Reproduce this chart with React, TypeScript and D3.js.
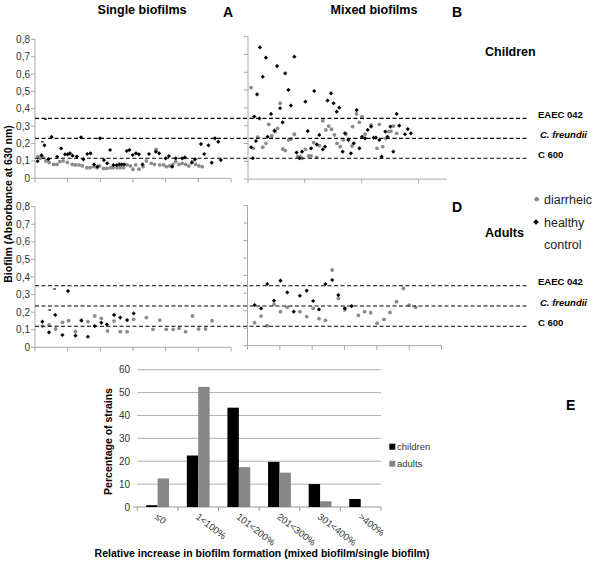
import React from "react";
import * as d3 from "d3";

// ---------- data ----------
const yTickValues = [0, 0.1, 0.2, 0.3, 0.4, 0.5, 0.6, 0.7, 0.8];
const refStrains = ["EAEC 042", "C. freundii", "C 600"];
const refTopValues = [0.345, 0.23, 0.115];
const refBottomValues = [0.35, 0.235, 0.12];

// Panel A: single biofilms, children  [strain, absorbance]
const singleChildrenDiarrheic: [number, number][] = [
  [0.9, 0.124], [1.6, 0.115], [2.5, 0.12], [3.3, 0.1], [4.3, 0.09], [5.7, 0.08], [6.7, 0.08], [7.6, 0.096],
  [8.6, 0.1], [9.9, 0.092], [11.4, 0.08], [12.4, 0.077], [13.5, 0.077], [14.5, 0.071], [15.9, 0.061],
  [16.9, 0.061], [18.0, 0.067], [19.0, 0.061], [19.8, 0.071], [21.0, 0.057], [22.0, 0.057], [23.1, 0.061],
  [23.9, 0.061], [25.1, 0.061], [26.1, 0.061], [27.1, 0.061], [28.2, 0.077], [29.2, 0.071], [30.0, 0.052],
  [30.8, 0.077], [31.8, 0.052], [33.1, 0.067], [34.1, 0.1], [35.6, 0.086], [36.6, 0.08], [37.1, 0.167],
  [38.2, 0.077], [39.4, 0.077], [40.2, 0.067], [41.2, 0.071], [42.2, 0.08], [43.1, 0.096], [44.1, 0.08],
  [45.1, 0.086], [46.1, 0.08], [47.1, 0.071], [48.2, 0.096], [49.2, 0.08], [50.2, 0.071], [51.2, 0.067],
];
const singleChildrenHealthy: [number, number][] = [
  [0.8, 0.098], [2.0, 0.132], [2.9, 0.19], [4.1, 0.11], [5.1, 0.238], [6.8, 0.124],
  [8.0, 0.172], [9.2, 0.138], [10.0, 0.138], [10.7, 0.144], [11.5, 0.13], [12.8, 0.125], [14.1, 0.236],
  [14.8, 0.109], [16.0, 0.14], [17.0, 0.144], [18.1, 0.08], [19.1, 0.067], [19.9, 0.23], [21.1, 0.105],
  [22.1, 0.086], [23.0, 0.163], [24.0, 0.076], [25.0, 0.076], [25.8, 0.08], [26.5, 0.08], [27.3, 0.08],
  [28.1, 0.157], [28.9, 0.163], [29.9, 0.134], [30.9, 0.144], [31.8, 0.138], [32.9, 0.08], [34.9, 0.14],
  [37.0, 0.153], [38.0, 0.144], [40.0, 0.115], [41.0, 0.128], [42.0, 0.067], [43.1, 0.115], [45.1, 0.115],
  [45.9, 0.12], [48.0, 0.09], [49.0, 0.109], [50.8, 0.197], [51.8, 0.14], [53.1, 0.19], [54.1, 0.09],
  [55.1, 0.23], [56.1, 0.21], [56.9, 0.105],
];
// partially drawn (clipped) healthy-control markers
const singleChildrenHealthyPartial: [number, number][] = [[2.25, 0.21], [3.2, 0.34]];

// Panel B: mixed biofilms, children
const mixedChildrenDiarrheic: [number, number][] = [
  [1.1, 0.514], [1.9, 0.173], [3.4, 0.235], [5.2, 0.179], [6.3, 0.201], [7.3, 0.308], [8.4, 0.242],
  [9.6, 0.267], [10.4, 0.285], [11.3, 0.426], [12.2, 0.169], [13.1, 0.16], [14.3, 0.22], [15.1, 0.225],
  [16.3, 0.252], [17.5, 0.126], [18.3, 0.126], [19.0, 0.117], [20.2, 0.167], [21.3, 0.13], [22.2, 0.13],
  [23.1, 0.205], [24.2, 0.122], [25.1, 0.188], [26.3, 0.328], [27.4, 0.276], [28.4, 0.298], [29.4, 0.28],
  [30.4, 0.248], [31.3, 0.201], [32.4, 0.182], [33.5, 0.22], [34.5, 0.253], [36.6, 0.186], [36.8, 0.295],
  [38.2, 0.366], [39.2, 0.319], [40.1, 0.351], [41.2, 0.252], [43.3, 0.304], [45.4, 0.173], [46.2, 0.308],
  [47.4, 0.182], [48.5, 0.229], [49.5, 0.267], [50.3, 0.27], [51.2, 0.298], [52.3, 0.257],
];
const mixedChildrenHealthy: [number, number][] = [
  [1.1, 0.179], [1.7, 0.117], [2.2, 0.351], [2.8, 0.214], [3.2, 0.476], [4.0, 0.341], [4.2, 0.74],
  [5.2, 0.575], [6.3, 0.682], [6.9, 0.238], [8.1, 0.366], [9.3, 0.272], [10.2, 0.635], [11.3, 0.398],
  [12.2, 0.319], [13.1, 0.594], [14.2, 0.501], [15.1, 0.413], [16.3, 0.688], [17.1, 0.149], [18.1, 0.117],
  [19.0, 0.154], [20.2, 0.435], [21.0, 0.27], [22.2, 0.173], [23.3, 0.495], [24.2, 0.195], [25.1, 0.248],
  [26.3, 0.167], [27.1, 0.182], [28.0, 0.441], [29.2, 0.482], [30.1, 0.426], [31.2, 0.379], [32.1, 0.401],
  [33.3, 0.154], [34.1, 0.257], [35.3, 0.22], [36.2, 0.145], [37.2, 0.201], [38.2, 0.388], [39.2, 0.173],
  [40.1, 0.238], [41.2, 0.229], [42.1, 0.276], [43.3, 0.295], [44.2, 0.233], [45.0, 0.233], [46.2, 0.22],
  [47.0, 0.126], [48.3, 0.267], [49.1, 0.238], [50.1, 0.295], [51.1, 0.154], [52.3, 0.366], [53.2, 0.3],
  [55.2, 0.252], [56.2, 0.281], [57.3, 0.257],
];

// Panel C: single biofilms, adults
const singleAdultsDiarrheic: [number, number][] = [
  [2.25, 0.121], [4.3, 0.127], [6.3, 0.104], [8.4, 0.142], [10.3, 0.151], [12.4, 0.089], [14.2, 0.155],
  [16.2, 0.146], [18.3, 0.178], [20.3, 0.165], [22.2, 0.093], [24.2, 0.149], [26.1, 0.089], [28.2, 0.089],
  [30.2, 0.159], [34.1, 0.169], [36.1, 0.102], [38.2, 0.155], [40.2, 0.102], [42.3, 0.102], [44.1, 0.108],
  [46.1, 0.089], [48.2, 0.178], [50.1, 0.104], [52.2, 0.104], [54.2, 0.151],
];
const singleAdultsHealthy: [number, number][] = [
  [2.25, 0.146], [4.3, 0.085], [6.2, 0.184], [8.4, 0.07], [10.1, 0.32],
  [12.4, 0.066], [14.2, 0.151], [16.2, 0.06], [18.3, 0.121], [20.3, 0.14], [22.0, 0.13], [24.2, 0.184],
  [26.1, 0.169], [28.2, 0.155], [30.2, 0.193],
];
const singleAdultsHealthyPartial: [number, number][] = [[4.5, 0.212], [6.0, 0.332]];

// Panel D: mixed biofilms, adults
const mixedAdultsDiarrheic: [number, number][] = [
  [2.2, 0.131], [4.2, 0.169], [6.1, 0.114], [8.2, 0.236], [10.2, 0.194], [12.3, 0.219], [16.2, 0.194],
  [18.3, 0.166], [20.3, 0.213], [22.1, 0.154], [24.1, 0.145], [26.2, 0.432], [28.1, 0.27], [30.1, 0.204],
  [34.3, 0.173], [36.2, 0.194], [38.1, 0.188], [40.1, 0.128], [42.2, 0.15], [44.1, 0.19], [46.1, 0.251],
  [48.2, 0.327], [50.0, 0.232], [52.0, 0.219],
];
const mixedAdultsHealthy: [number, number][] = [
  [2.2, 0.232], [4.2, 0.213], [6.1, 0.352], [8.2, 0.257], [10.2, 0.371], [12.3, 0.304], [14.3, 0.194],
  [16.2, 0.285], [18.3, 0.314], [20.3, 0.255], [22.1, 0.207], [24.1, 0.352], [26.2, 0.375], [28.1, 0.289],
  [30.1, 0.213], [32.2, 0.226],
];

// Panel E
const categories = ["≤0", "1<100%", "101<200%", "201<300%", "301<400%", ">400%"];
const groups = ["children", "adults"];
const childrenPct = [0.8, 22.5, 43.4, 19.7, 10, 3.5];
const adultsPct = [12.5, 52.5, 17.4, 15, 2.5, 0];
const pctTicks = [0, 10, 20, 30, 40, 50, 60];

// ---------- styles ----------
const FONT = "'Liberation Sans', Arial, Helvetica, sans-serif";
const GRAY = "#8c8c8c";
const AXIS = "#a8a8a8";
const fmt = (v: number) => (v === 0 ? "0" : d3.format(".1f")(v).replace(".", ","));

type Pt = [number, number];

function ScatterPanel(props: {
  x: d3.ScaleLinear<number, number>;
  y: d3.ScaleLinear<number, number>;
  xTicks: number[];
  xEnd: number;
  labels: boolean;
  gray: Pt[];
  black: Pt[];
  partial?: Pt[];
}) {
  const { x, y, xTicks, xEnd, labels, gray, black, partial = [] } = props;
  const x0 = x.range()[0];
  const y0 = y(0);
  return (
    <g>
      <line x1={x0} x2={x0} y1={y(0.8)} y2={y0} stroke={AXIS} />
      <line x1={x0} x2={xEnd} y1={y0} y2={y0} stroke={AXIS} />
      {yTickValues.map((t) => (
        <g key={"yt" + t}>
          <line x1={x0 - 4} x2={x0} y1={y(t)} y2={y(t)} stroke={AXIS} />
          {labels && (
            <text x={x0 - 5} y={y(t)} dy="0.35em" textAnchor="end" fontSize={10} fill="#333" fontFamily={FONT}>
              {fmt(t)}
            </text>
          )}
        </g>
      ))}
      {xTicks.map((t) => (
        <line key={"xt" + t} x1={x(t)} x2={x(t)} y1={y0} y2={y0 + 4} stroke={AXIS} />
      ))}
      {gray.map((d, i) => (
        <circle key={"g" + i} cx={x(d[0])} cy={y(d[1])} r={1.9} fill={GRAY} />
      ))}
      {black.map((d, i) => {
        const cx = x(d[0]);
        const cy = y(d[1]);
        const s = 2.1;
        return (
          <path key={"b" + i} d={`M${cx},${cy - s}L${cx + s},${cy}L${cx},${cy + s}L${cx - s},${cy}Z`} fill="#000" />
        );
      })}
      {partial.map((d, i) => (
        <line key={"p" + i} x1={x(d[0]) - 1.3} x2={x(d[0]) + 1.3} y1={y(d[1])} y2={y(d[1])} stroke="#000" strokeWidth={1.2} />
      ))}
    </g>
  );
}

export default function App() {
  const xA = d3.scaleLinear().domain([0, 60]).range([35, 231]);
  const yA = d3.scaleLinear().domain([0, 0.8]).range([178.3, 39.3]);
  const xB = d3.scaleLinear().domain([0, 70]).range([248, 447]);
  const yB = d3.scaleLinear().domain([0, 0.8]).range([179.1, 36.7]);
  const xC = d3.scaleLinear().domain([0, 60]).range([35, 231]);
  const yC = d3.scaleLinear().domain([0, 0.8]).range([347.3, 206.7]);
  const xD = d3.scaleLinear().domain([0, 60]).range([247.5, 441.5]);
  const yD = d3.scaleLinear().domain([0, 0.8]).range([345.7, 205.5]);

  const ticks60 = [0, 10, 20, 30, 40, 50, 60];

  // bar chart
  const xE = d3.scaleBand<string>().domain(categories).range([137.3, 381]).padding(0);
  const xSub = d3.scaleBand<string>().domain(groups).range([0, xE.bandwidth()]).paddingInner(0).paddingOuter(0.78);
  const yE = d3.scaleLinear().domain([0, 60]).range([507, 369.7]);
  const barSeries = [
    { key: "children", values: childrenPct, color: "#000" },
    { key: "adults", values: adultsPct, color: "#878787" },
  ];

  const refLabelX = 538;

  return (
    <svg width={600} height={561} style={{ position: "absolute", left: 0, top: 0, background: "#fff" }} fontFamily={FONT}>
      <rect x={0} y={0} width={600} height={561} fill="#fff" />
      {/* titles */}
      <text x={142} y={14} textAnchor="middle" fontSize={12.5} fontWeight="bold">Single biofilms</text>
      <text x={374} y={14} textAnchor="middle" fontSize={12.5} fontWeight="bold">Mixed biofilms</text>
      <text x={223} y={17} fontSize={14} fontWeight="bold">A</text>
      <text x={452} y={17} fontSize={14} fontWeight="bold">B</text>
      <text x={485} y={56} fontSize={12.5} fontWeight="bold">Children</text>
      <text x={452} y={212} fontSize={14} fontWeight="bold">D</text>
      <text x={485} y={237} fontSize={12.5} fontWeight="bold">Adults</text>
      <text x={566} y={410} fontSize={14} fontWeight="bold">E</text>

      <text transform="translate(8,204) rotate(-90)" textAnchor="middle" dy="0.35em" fontSize={10.5} fontWeight="bold">
        Biofilm (Absorbance at 630 nm)
      </text>

      <ScatterPanel x={xA} y={yA} xTicks={ticks60} xEnd={231} labels gray={singleChildrenDiarrheic} black={singleChildrenHealthy} partial={singleChildrenHealthyPartial} />
      <ScatterPanel x={xB} y={yB} xTicks={[0, 20, 40, 60]} xEnd={447} labels={false} gray={mixedChildrenDiarrheic} black={mixedChildrenHealthy} />
      <ScatterPanel x={xC} y={yC} xTicks={ticks60} xEnd={231} labels gray={singleAdultsDiarrheic} black={singleAdultsHealthy} partial={singleAdultsHealthyPartial} />
      <ScatterPanel x={xD} y={yD} xTicks={ticks60} xEnd={441.5} labels={false} gray={mixedAdultsDiarrheic} black={mixedAdultsHealthy} />

      {/* reference strain lines */}
      {refTopValues.map((v, i) => (
        <g key={"rt" + i}>
          <line x1={35} x2={527} y1={yA(v)} y2={yA(v)} stroke="#000" strokeWidth={1.1} strokeDasharray="4,2.5" />
          <text x={refLabelX + (i === 1 ? 2 : 0)} y={yA(v)} dy="-0.05em" fontSize={9.5} fontWeight="bold" fontStyle={i === 1 ? "italic" : "normal"}>
            {refStrains[i]}
          </text>
        </g>
      ))}
      {refBottomValues.map((v, i) => (
        <g key={"rb" + i}>
          <line x1={35} x2={527} y1={yC(v)} y2={yC(v)} stroke="#000" strokeWidth={1.1} strokeDasharray="4,2.5" />
          <text x={refLabelX + (i === 1 ? 2 : 0)} y={yC(v)} dy="-0.05em" fontSize={9.5} fontWeight="bold" fontStyle={i === 1 ? "italic" : "normal"}>
            {refStrains[i]}
          </text>
        </g>
      ))}

      {/* scatter legend */}
      <circle cx={536.7} cy={199.3} r={2.3} fill={GRAY} />
      <text x={544} y={203.5} fontSize={12.5} fill="#222">diarrheic</text>
      <path d="M536,219.3L538.7,222L536,224.7L533.3,222Z" fill="#000" />
      <text x={544} y={226.5} fontSize={12.5} fill="#222">healthy</text>
      <text x={544} y={248.5} fontSize={12.5} fill="#222">control</text>

      {/* bar chart E */}
      {pctTicks.map((t) => (
        <g key={"pt" + t}>
          <line x1={t === 0 ? 133 : 137.3} x2={381} y1={yE(t)} y2={yE(t)} stroke={t === 0 ? "#999" : "#b0b0b0"} />
          <text x={130} y={yE(t)} dy="0.35em" textAnchor="end" fontSize={10} fill="#333">{t}</text>
        </g>
      ))}
      {categories.map((c, i) => (
        <line key={"ct" + i} x1={xE(c)!} x2={xE(c)!} y1={507} y2={511} stroke="#999" />
      ))}
      <line x1={381} x2={381} y1={507} y2={511} stroke="#999" />
      {barSeries.map((s) =>
        s.values.map((v, i) =>
          v > 0 ? (
            <rect
              key={s.key + i}
              x={xE(categories[i])! + xSub(s.key)!}
              y={yE(v)}
              width={xSub.bandwidth()}
              height={yE(0) - yE(v)}
              fill={s.color}
            />
          ) : null
        )
      )}
      {categories.map((c, i) => (
        <text
          key={"cl" + i}
          transform={`translate(${xE(c)! + xE.bandwidth() / 2 - 3},${518}) rotate(38)`}
          fontSize={9.5}
          fill="#333"
        >
          {c}
        </text>
      ))}
      <text transform="translate(108,441.5) rotate(-90)" textAnchor="middle" dy="0.35em" fontSize={10.5} fontWeight="bold">
        Percentage of strains
      </text>
      <text x={262} y={557} textAnchor="middle" fontSize={10.5} fontWeight="bold">
        Relative increase in biofilm formation (mixed biofilm/single biofilm)
      </text>
      <rect x={389.3} y={443.7} width={6} height={6} fill="#000" />
      <text x={397} y={450} fontSize={9.5} fill="#333">children</text>
      <rect x={389.3} y={460.7} width={6} height={6} fill="#878787" />
      <text x={397} y={467} fontSize={9.5} fill="#333">adults</text>
    </svg>
  );
}
